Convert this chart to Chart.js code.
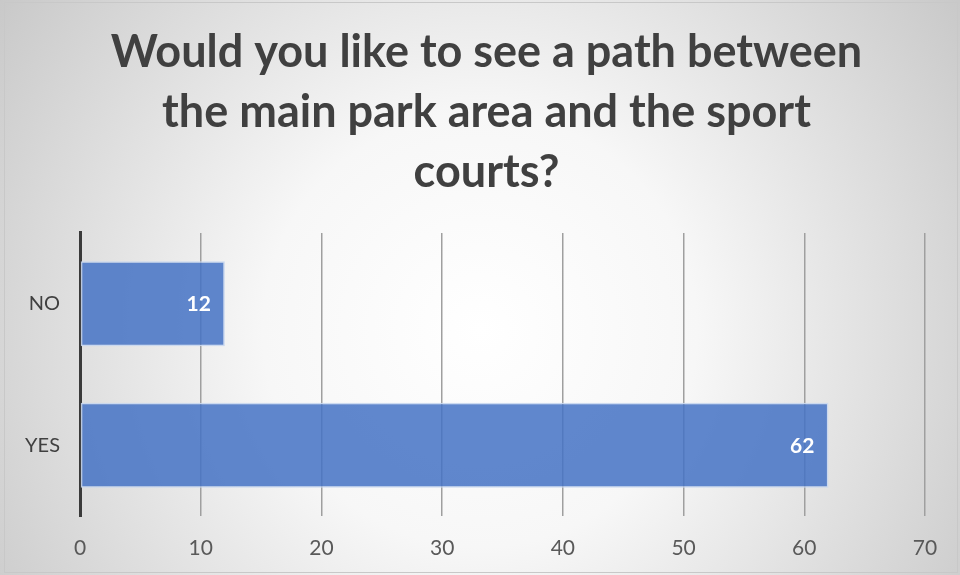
<!DOCTYPE html>
<html lang="en">
<head>
  <meta charset="UTF-8">
  <title>Path between park area and sport courts</title>
  <script src="https://cdn.jsdelivr.net/npm/chart.js"></script>
  <style>
    html, body { margin: 0; padding: 0; background: #fff; }
    #wrap { width: 960px; height: 575px; }
  </style>
</head>
<body>
  <div id="wrap"><canvas id="pathChart" width="960" height="575"></canvas></div>

  <script>
    // survey answers
    const answers = ['NO', 'YES'];
    const counts = [12, 62];
    const titleLines = ['Would you like to see a path between', 'the main park area and the sport', 'courts?'];

    // grey radial background + thin frame
    const background = {
      id: 'background',
      beforeDraw(chart) {
        const c = chart.ctx;
        const w = chart.width, h = chart.height;
        c.save();
        const g = c.createRadialGradient(480, 330, 0, 480, 330, 620);
        g.addColorStop(0, '#ffffff');
        g.addColorStop(0.35, '#f7f7f7');
        g.addColorStop(1, '#c4c4c4');
        c.fillStyle = g;
        c.fillRect(0, 0, w, h);
        c.strokeStyle = '#c8c8c8';
        c.lineWidth = 1;
        c.strokeRect(4.5, 2.5, w - 7, h - 5);
        c.restore();
      }
    };

    // nudge the title box so it centres where the original does
    const titleShift = {
      id: 'titleShift',
      afterLayout(chart) {
        if (chart.titleBlock) chart.titleBlock.left += 38;
      }
    };

    // white value labels inside the bar ends
    const valueLabels = {
      id: 'valueLabels',
      afterDatasetsDraw(chart) {
        const c = chart.ctx;
        const meta = chart.getDatasetMeta(0);
        c.save();
        c.font = 'bold 21px Lato, sans-serif';
        c.fillStyle = '#ffffff';
        c.textAlign = 'right';
        c.textBaseline = 'middle';
        meta.data.forEach((bar, i) => {
          c.fillText(counts[i], bar.x - 14, bar.y + 1);
        });
        c.restore();
      }
    };

    const ctx = document.getElementById('pathChart').getContext('2d');
    new Chart(ctx, {
      type: 'bar',
      data: {
        labels: answers,
        datasets: [{
          data: counts,
          backgroundColor: 'rgba(68, 114, 196, 0.85)',
          borderColor: 'rgba(200, 215, 240, 0.9)',
          borderWidth: 1.5,
          borderSkipped: false,
          categoryPercentage: 1,
          barPercentage: 0.6
        }]
      },
      options: {
        indexAxis: 'y',
        responsive: false,
        animation: false,
        layout: { padding: { left: 10, right: 35, top: 0, bottom: 1 } },
        plugins: {
          legend: { display: false },
          tooltip: { enabled: false },
          title: {
            display: true,
            text: titleLines,
            color: '#404040',
            font: { family: 'Lato, sans-serif', size: 45, weight: 'bold', lineHeight: 1.34 },
            padding: { top: 22, bottom: 30 }
          }
        },
        scales: {
          x: {
            min: 0,
            max: 70,
            ticks: { stepSize: 10, color: '#595959', font: { family: 'Lato, sans-serif', size: 21 }, padding: 20 },
            grid: { color: '#9f9f9f', lineWidth: 1.5, drawTicks: false },
            border: { display: false },
            afterFit(s) { s.height = 58; }
          },
          y: {
            ticks: { color: '#404040', font: { family: 'Lato, sans-serif', size: 20 }, padding: 20 },
            grid: { display: false, drawTicks: false },
            border: { color: '#3a3a3a', width: 3 },
            afterFit(s) { s.width = 70; }
          }
        }
      },
      plugins: [background, titleShift, valueLabels]
    });
  </script>
</body>
</html>
